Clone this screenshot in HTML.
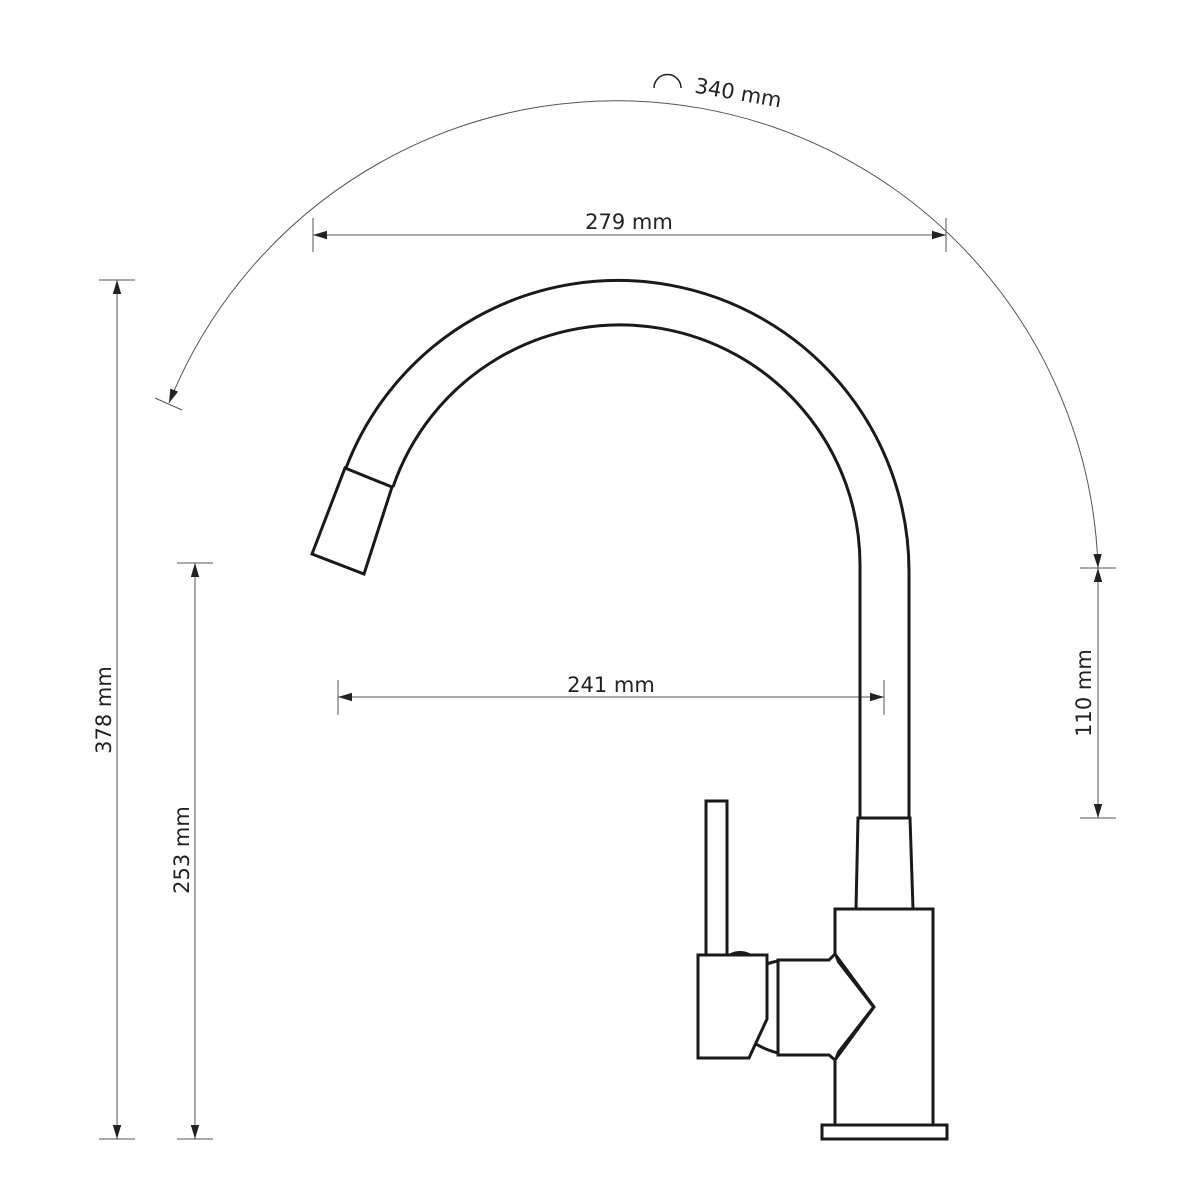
<!DOCTYPE html>
<html><head><meta charset="utf-8"><style>
html,body{margin:0;padding:0;background:#fff;}
svg{display:block;}
text{font-family:"DejaVu Sans","Liberation Sans",sans-serif;font-size:21px;fill:#222;}
</style></head><body>
<svg width="1200" height="1200" viewBox="0 0 1200 1200" xmlns="http://www.w3.org/2000/svg">
<defs>
<marker id="a" viewBox="0 0 10 10" refX="10" refY="5" markerWidth="14" markerHeight="14" markerUnits="userSpaceOnUse" orient="auto-start-reverse">
<path d="M0,2 L10,5 L0,8 Z" fill="#222"/></marker>
</defs>
<g stroke="#555" stroke-width="1" fill="none">
<path d="M169 403 A 482 482 0 0 1 1098 568" marker-start="url(#a)" marker-end="url(#a)"/>
<line x1="155" y1="398" x2="182" y2="410"/>
<line x1="1080" y1="568" x2="1116" y2="568"/>
<line x1="1098" y1="568" x2="1098" y2="818" marker-start="url(#a)" marker-end="url(#a)"/>
<line x1="1080" y1="818" x2="1116" y2="818"/>
<line x1="313" y1="235" x2="946" y2="235" marker-start="url(#a)" marker-end="url(#a)"/>
<line x1="313" y1="218" x2="313" y2="252"/>
<line x1="946" y1="218" x2="946" y2="252"/>
<line x1="338" y1="697" x2="884" y2="697" marker-start="url(#a)" marker-end="url(#a)"/>
<line x1="338" y1="680" x2="338" y2="715"/>
<line x1="884" y1="680" x2="884" y2="715"/>
<line x1="117" y1="280" x2="117" y2="1139" marker-start="url(#a)" marker-end="url(#a)"/>
<line x1="99" y1="280" x2="135" y2="280"/>
<line x1="99" y1="1139" x2="135" y2="1139"/>
<line x1="195" y1="563" x2="195" y2="1139" marker-start="url(#a)" marker-end="url(#a)"/>
<line x1="177" y1="563" x2="213" y2="563"/>
<line x1="177" y1="1139" x2="213" y2="1139"/>
<path d="M654 88 A 13 13 0 0 1 681 88" stroke="#222" stroke-width="1.5"/>
</g>
<text x="629" y="229" text-anchor="middle">279 mm</text>
<text x="611" y="692" text-anchor="middle">241 mm</text>
<text transform="translate(737,100) rotate(10)" text-anchor="middle">340 mm</text>
<text transform="translate(111,710) rotate(-90)" text-anchor="middle">378 mm</text>
<text transform="translate(189,850) rotate(-90)" text-anchor="middle">253 mm</text>
<text transform="translate(1091,693) rotate(-90)" text-anchor="middle">110 mm</text>

<g stroke="#1a1a1a" stroke-width="3" fill="none" stroke-linejoin="miter">
<path d="M909 818 L909 571 A 291 291 0 0 0 346 468"/>
<path d="M860 818 L860 565 A 240 240 0 0 0 393 487"/>
<path d="M345 468 L392 487 L364 574 L312 554 Z" fill="#fff"/>
<path d="M858 818 L910 818 L913 909 L856 909 Z" fill="#fff"/>
<rect x="835" y="909" width="98" height="216" fill="#fff"/>
<rect x="822" y="1125" width="125" height="14" fill="#fff"/>
<rect x="706" y="801" width="21" height="154" fill="#fff"/>
<path d="M698 955 L767 955 L767 1019 L749 1058 L698 1058 Z" fill="#fff"/>
<path d="M767 964 Q772 962 778 961"/>
<path d="M756 1044 Q766 1050 778 1053"/>
<path d="M778 960 L829 960 L835 954 L874 1007 L835 1060 L829 1055 L778 1055 Z" fill="#fff"/>
<path d="M835 954 L838 962 L873 1007 L838 1052 L835 1060" stroke-width="2"/>
<path d="M730 955 Q740 950 750 955" fill="#1a1a1a"/>
</g>
</svg>
</body></html>
